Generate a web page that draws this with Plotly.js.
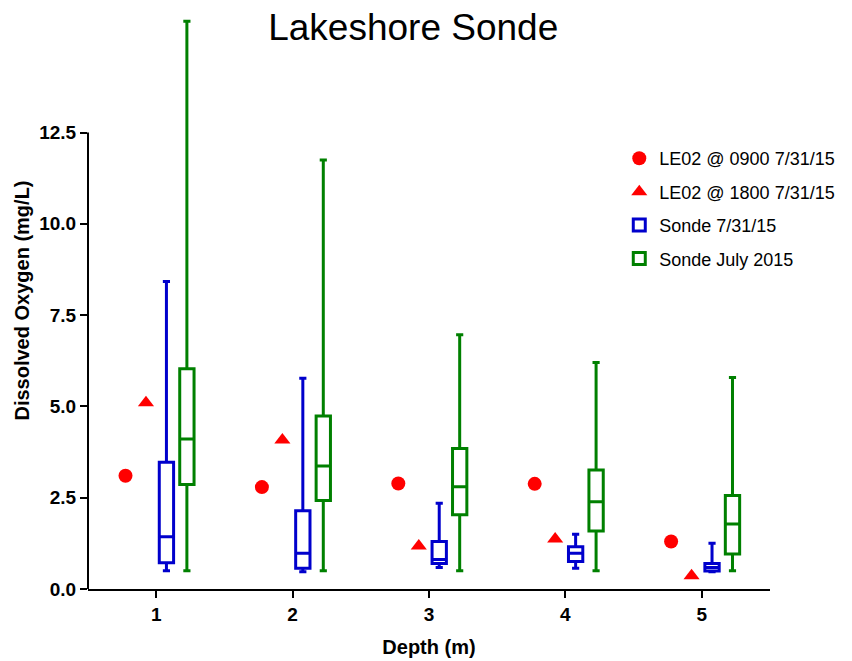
<!DOCTYPE html>
<html>
<head>
<meta charset="utf-8">
<script src="https://cdn.plot.ly/plotly-3.0.1.min.js"></script>
<style>html,body{margin:0;padding:0;background:#fff;}#chart{width:852px;height:661px;}</style>
</head>
<body>
<div id="chart"></div>
<script>
// ---- data ----
var depths = [1, 2, 3, 4, 5];
var le02_0900 = [3.10, 2.79, 2.89, 2.88, 1.30];
var le02_1800 = [5.10, 4.08, 1.18, 1.37, 0.36];

// Sonde 7/31/15 (min, q1, median, q3, max)
var day_min = [0.50, 0.47, 0.59, 0.57, 0.47];
var day_q1  = [0.72, 0.57, 0.70, 0.75, 0.49];
var day_med = [1.43, 0.98, 0.81, 0.98, 0.59];
var day_q3  = [3.47, 2.14, 1.30, 1.16, 0.70];
var day_max = [8.42, 5.77, 2.35, 1.50, 1.25];

// Sonde July 2015
var mon_min = [0.50, 0.50, 0.50, 0.50, 0.50];
var mon_q1  = [2.86, 2.42, 2.03, 1.59, 0.96];
var mon_med = [4.11, 3.37, 2.80, 2.39, 1.78];
var mon_q3  = [6.03, 4.74, 3.85, 3.26, 2.56];
var mon_max = [15.55, 11.75, 6.96, 6.20, 5.79];

var yTicks = [0, 2.5, 5, 7.5, 10, 12.5];
var yTickText = ["0.0", "2.5", "5.0", "7.5", "10.0", "12.5"];

// ---- layout helpers ----
var offs = [-0.225, -0.075, 0.075, 0.225];
function shift(arr, d) { return arr.map(function (v) { return v + d; }); }
var yMax = 15.8;
var BLUE = "rgb(0,0,204)", GREEN = "rgb(0,128,0)", RED = "rgb(255,0,0)";

var traces = [
  {
    type: "scatter", mode: "markers", name: "LE02 @ 0900 7/31/15", legendgroup: "a",
    x: shift(depths, offs[0]), y: le02_0900,
    marker: {symbol: "circle", size: 14, color: RED}
  },
  {
    type: "scatter", mode: "markers", name: "LE02 @ 1800 7/31/15", legendgroup: "b",
    x: shift(depths, offs[1]), y: le02_1800,
    marker: {symbol: "triangle-up", size: 14, color: RED}
  },
  {
    type: "box", name: "Sonde 7/31/15", legendgroup: "c",
    x: shift(depths, offs[2]),
    q1: day_q1, median: day_med, q3: day_q3,
    lowerfence: day_min, upperfence: day_max,
    boxpoints: false, width: 0.105, whiskerwidth: 0.5,
    line: {color: BLUE, width: 3}, fillcolor: "rgba(255,255,255,0)"
  },
  {
    type: "box", name: "Sonde July 2015", legendgroup: "d",
    x: shift(depths, offs[3]),
    q1: mon_q1, median: mon_med, q3: mon_q3,
    lowerfence: mon_min, upperfence: mon_max,
    boxpoints: false, width: 0.105, whiskerwidth: 0.5,
    line: {color: GREEN, width: 3}, fillcolor: "rgba(255,255,255,0)"
  }
];

var FONT = "Liberation Sans, Arial, sans-serif";
var layout = {
  width: 852, height: 661,
  margin: {l: 88, r: 80, t: 12, b: 72},
  paper_bgcolor: "#fff", plot_bgcolor: "#fff",
  font: {family: FONT, color: "#000"},
  showlegend: true,
  title: {
    text: "Lakeshore Sonde",
    font: {family: FONT, size: 37, color: "#000"},
    x: 0.485, xref: "container", xanchor: "center",
    y: 0.959, yref: "container", yanchor: "middle"
  },
  xaxis: {
    range: [0.5, 5.5], tickvals: depths, ticktext: depths.map(String),
    showgrid: false, zeroline: false,
    showline: true, linecolor: "#000", linewidth: 2,
    ticks: "outside", ticklen: 7, tickwidth: 2, tickcolor: "#000",
    tickfont: {family: FONT, size: 19, weight: "bold", color: "#000"},
    title: {text: "Depth (m)", font: {family: FONT, size: 20, weight: "bold", color: "#000"}, standoff: 16}
  },
  yaxis: {
    range: [0, yMax], tickvals: yTicks, ticktext: yTickText,
    showgrid: false, zeroline: false, showline: false,
    ticks: "outside", ticklen: 7, tickwidth: 2, tickcolor: "#000",
    tickfont: {family: FONT, size: 19, weight: "bold", color: "#000"},
    title: {text: "Dissolved Oxygen (mg/L)", font: {family: FONT, size: 20, weight: "bold", color: "#000"}, standoff: 4}
  },
  shapes: [
    {type: "line", xref: "paper", yref: "paper", x0: 0, x1: 0, y0: 0, y1: 12.5 / yMax,
     line: {color: "#000", width: 2}, layer: "above"}
  ],
  legend: {
    x: 0.779, y: 0.778, xanchor: "left", yanchor: "top",
    traceorder: "grouped", tracegroupgap: 7,
    font: {family: FONT, size: 18, color: "#000"},
    bgcolor: "rgba(0,0,0,0)", borderwidth: 0
  }
};

Plotly.newPlot("chart", traces, layout, {displayModeBar: false, staticPlot: true});
</script>
</body>
</html>
